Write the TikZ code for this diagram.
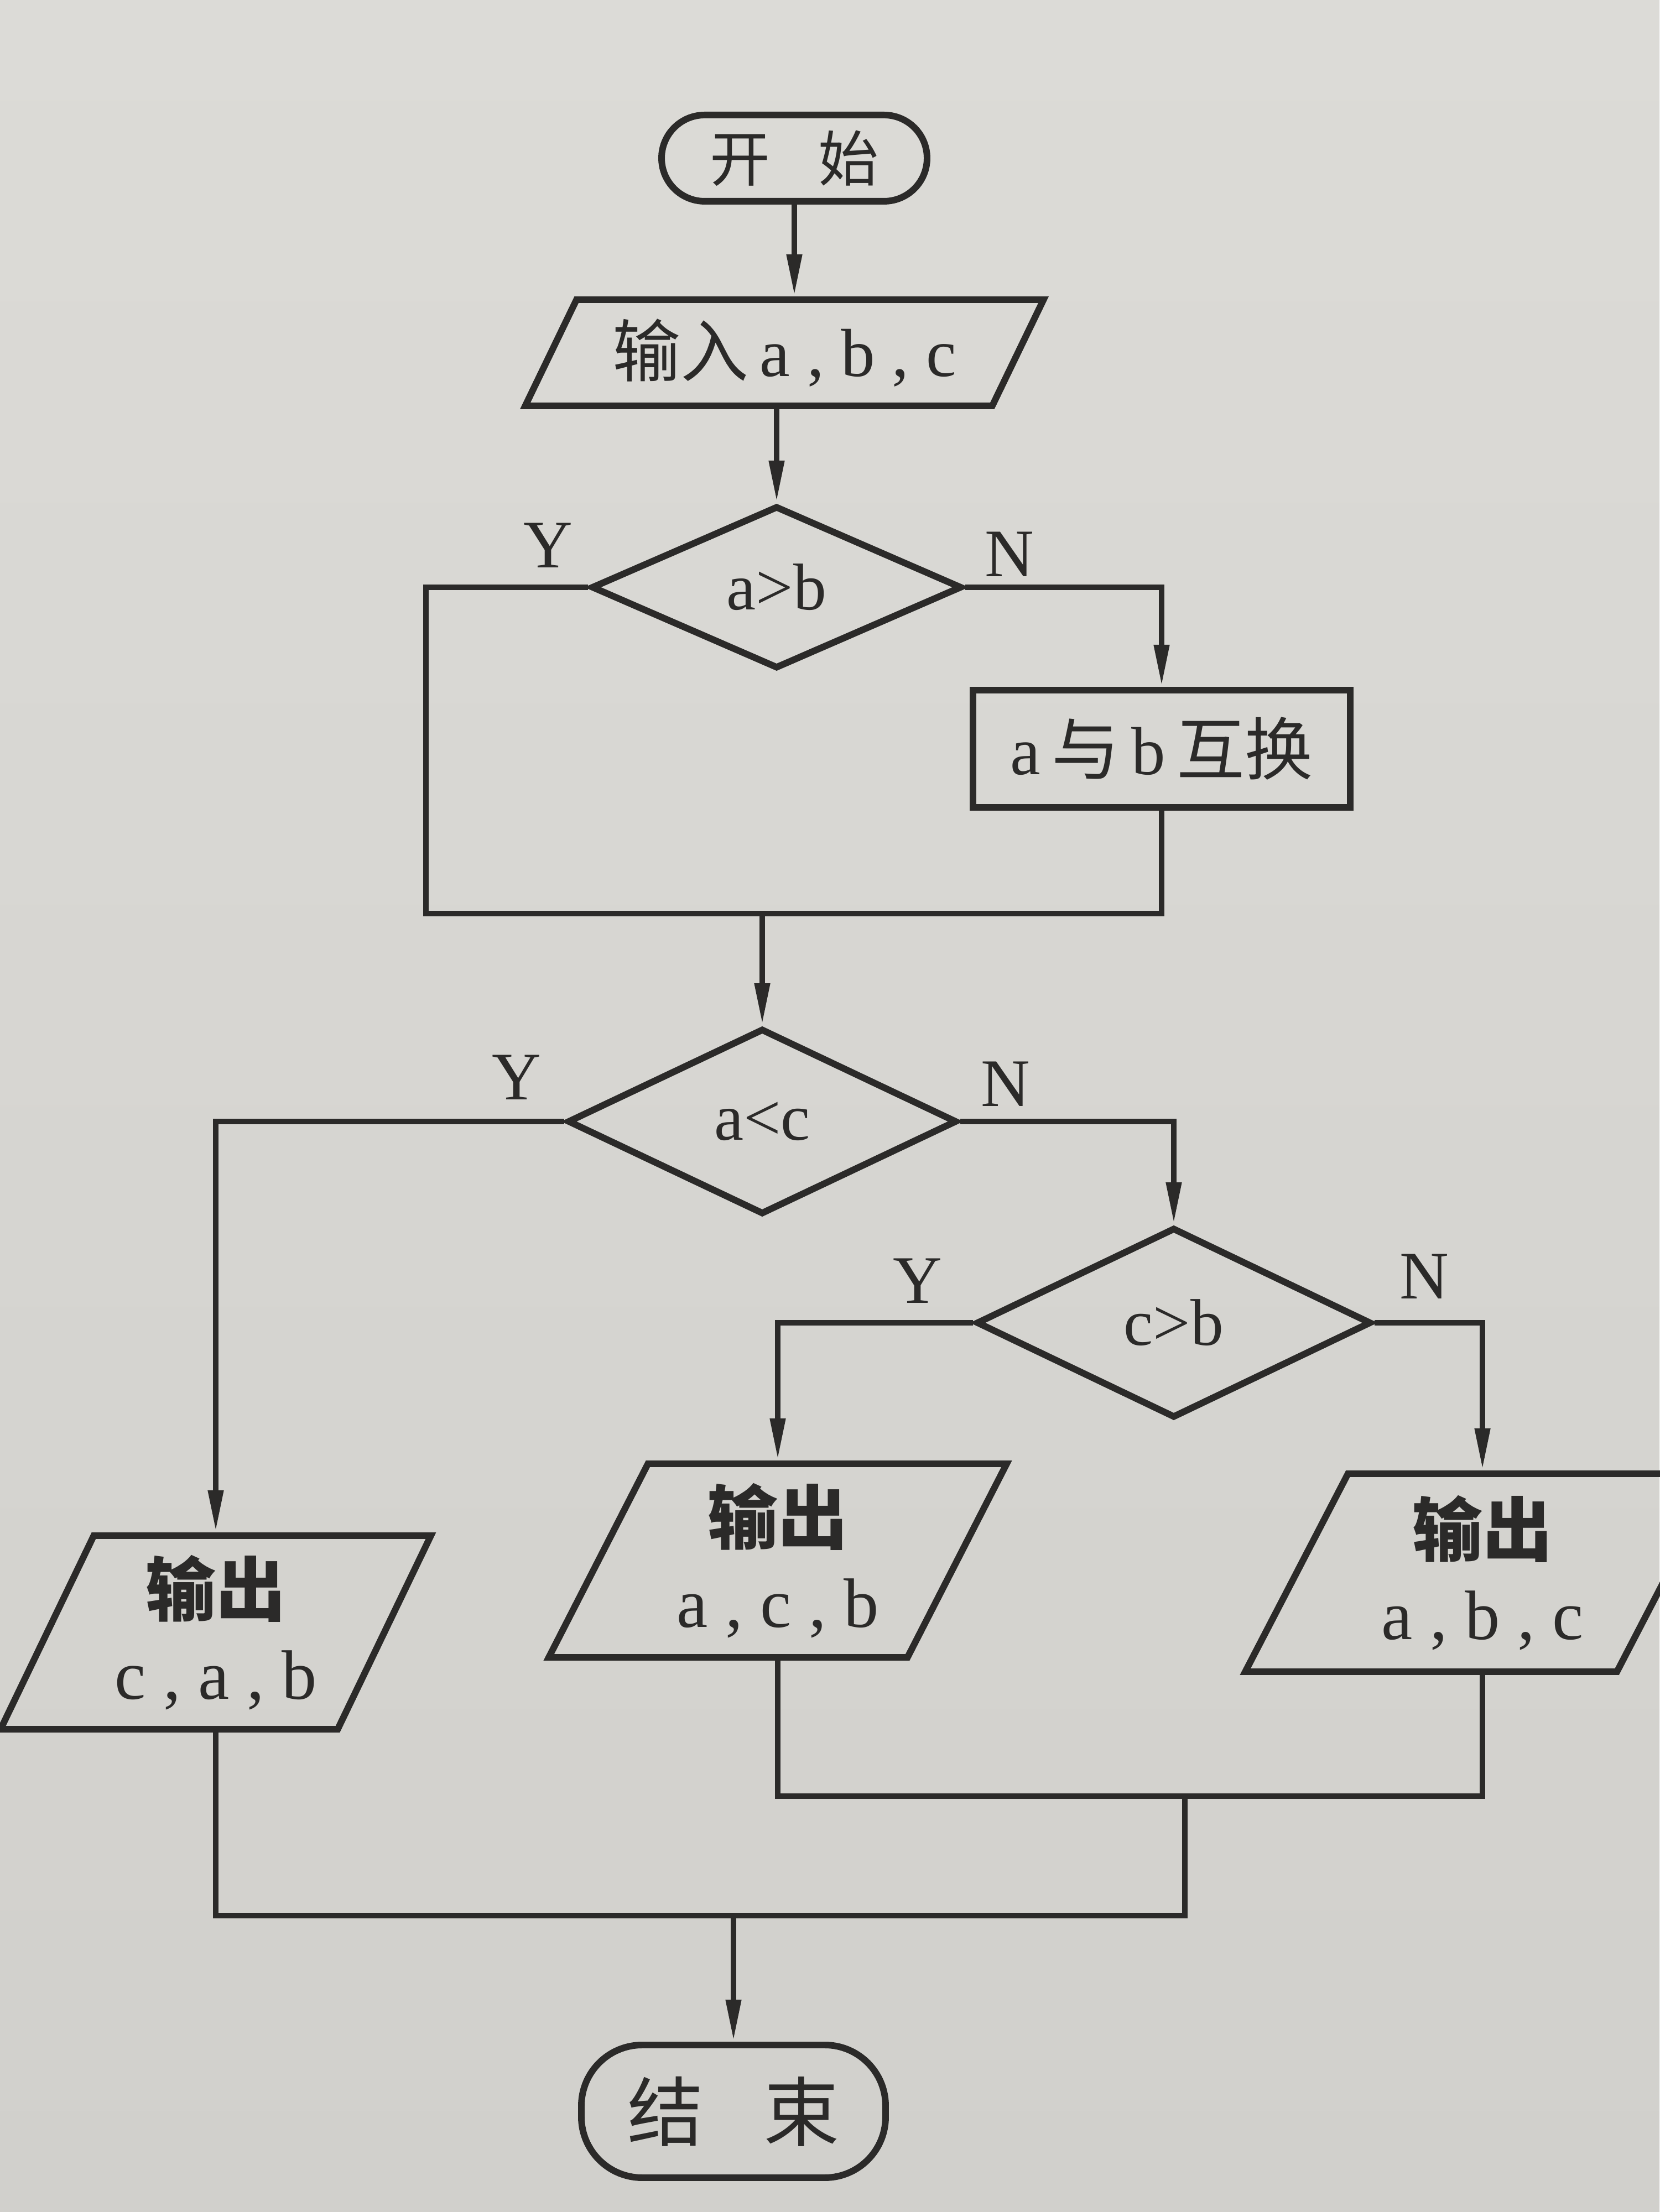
\documentclass[tikz,border=0pt]{standalone}
\usepackage{fontspec}
\setmainfont{Liberation Serif}
\newfontfamily\cjk{Noto Sans CJK SC}
\usetikzlibrary{arrows.meta,positioning,calc,shapes.geometric}
\definecolor{cPaperTop}{HTML}{DCDBD7}
\definecolor{cPaperBot}{HTML}{D1D0CC}
\definecolor{cInk}{HTML}{2B2A29}
\tikzset{
  fnode/.style={draw=cInk, line width=1.7pt, align=center, text=cInk, inner sep=2pt},
  term/.style={fnode, rectangle, font=\fontsize{15.5}{18}\selectfont\cjk},
  io/.style={fnode, trapezium, trapezium left angle=64, trapezium right angle=116,
    trapezium stretches=true},
  outbox/.style={io, minimum width=40mm, minimum height=17.5mm,
    font=\fontsize{18}{21.5}\selectfont},
  proc/.style={fnode, rectangle, font=\fontsize{17.5}{20}\selectfont},
  test/.style={fnode, diamond, inner sep=0pt, font=\fontsize{17}{19}\selectfont},
  yn/.style={text=cInk, inner sep=0pt, font=\fontsize{17.5}{19}\selectfont},
}
\begin{document}
\begin{tikzpicture}[>={Triangle[length=3.8mm,width=1.3mm]},
      e/.style={draw=cInk, line width=1.5pt}]
  \useasboundingbox (0,0) rectangle (15,20);
  \shade[top color=cPaperTop, bottom color=cPaperBot] (0,0) rectangle (15,20);
  % --- nodes, explicit coordinates ---
  \node[term, minimum width=24mm, minimum height=7.8mm, rounded corners=3.9mm]
    (start) at (7.18,18.57) {开\hspace{0.8em}始};
  \node[io, minimum width=46.9mm, minimum height=9.6mm, trapezium left angle=62,
    trapezium right angle=118, font=\fontsize{17.5}{20}\selectfont]
    (in) at (7.09,16.81) {{\cjk 输入}\,a , b , c};
  \node[test, minimum width=33.5mm, minimum height=14.7mm] (ab) at (7.02,14.69) {a>b};
  \node[proc, minimum width=34.1mm, minimum height=10.6mm] (swap) at (10.5,13.23)
    {a\,{\cjk 与}\,b\,{\cjk 互换}};
  \node[test, minimum width=35.2mm, minimum height=16.8mm] (ac) at (6.89,9.86) {a<c};
  \node[test, minimum width=35.7mm, minimum height=17.2mm] (cb) at (10.61,8.04) {c>b};
  \node[outbox, minimum width=39mm] (cab) at (1.95,5.24) {{\cjk\bfseries 输出}\\c , a , b};
  \node[outbox, minimum width=41.5mm] (acb) at (7.03,5.89) {{\cjk\bfseries 输出}\\a , c , b};
  \node[outbox, minimum width=43mm, minimum height=17.9mm] (abc) at (13.4,5.78)
    {{\cjk\bfseries 输出}\\a , b , c};
  \node[term, minimum width=27.5mm, minimum height=12mm, rounded corners=5.5mm,
    font=\fontsize{19.5}{22}\selectfont\cjk] (stop) at (6.63,0.91) {结\hspace{0.8em}束};
  % --- branch labels ---
  \node[yn] (yab) at ($(ab.west)+(-0.36,0.38)$) {Y};
  \node[yn] (nab) at ($(ab.east)+(0.4,0.3)$) {N};
  \node[yn] (yac) at ($(ac.west)+(-0.43,0.4)$) {Y};
  \node[yn] (nac) at ($(ac.east)+(0.41,0.34)$) {N};
  \node[yn] (ycb) at ($(cb.west)+(-0.5,0.38)$) {Y};
  \node[yn] (ncb) at ($(cb.east)+(0.45,0.42)$) {N};
  % --- join points ---
  \coordinate (j1) at (3.85,11.74);
  \coordinate (j2) at (10.71,3.76);
  \coordinate (j3) at (10.71,2.68);
  % --- flow ---
  \draw[e,->] (start) -- (start |- in.north);
  \draw[e,->] (in.south -| ab.north) -- (ab.north);
  \draw[e] (ab.west) -| (j1) -- (swap.south |- j1) -- (swap.south);
  \draw[e,->] (ab.east) -| (swap.north);
  \draw[e,->] (ac.north |- j1) -- (ac.north);
  \draw[e,->] (ac.west) -| (cab.north);
  \draw[e,->] (ac.east) -| (cb.north);
  \draw[e,->] (cb.west) -| (acb.north);
  \draw[e,->] (cb.east) -| (abc.north);
  \draw[e] (acb.south) |- (abc.south |- j2) -- (abc.south);
  \draw[e] (cab.south) |- (j3) -- (j2);
  \draw[e,->] (stop.north |- j3) -- (stop.north);
\end{tikzpicture}
\end{document}
